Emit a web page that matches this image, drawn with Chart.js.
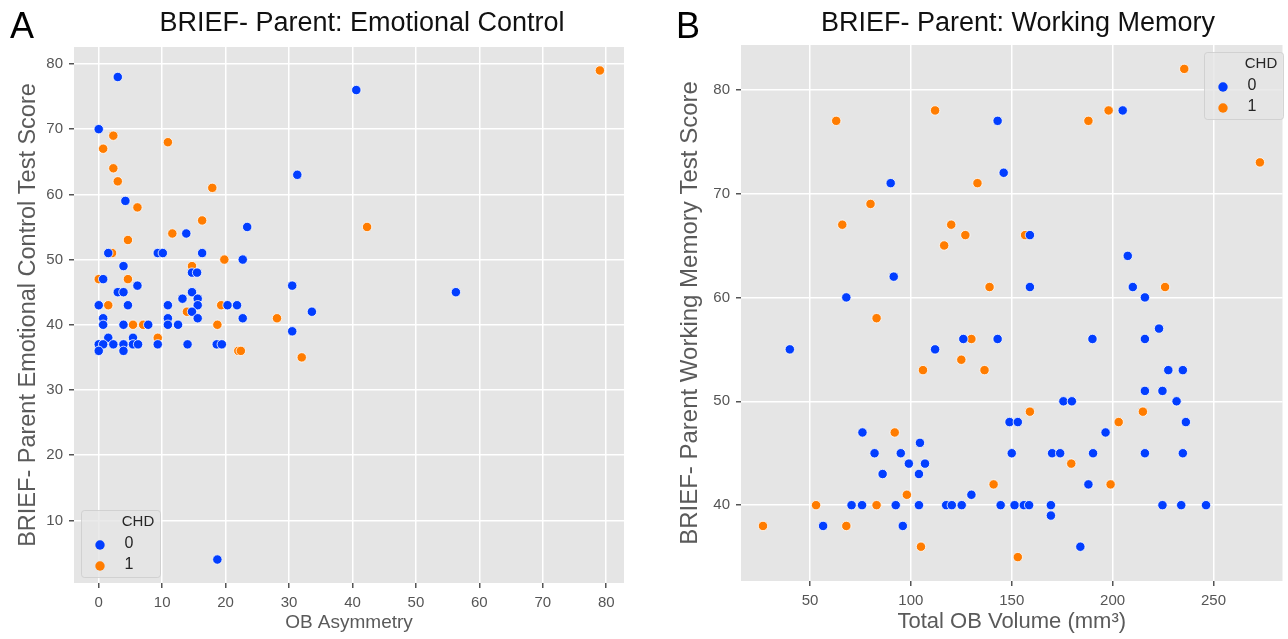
<!DOCTYPE html>
<html>
<head>
<meta charset="utf-8">
<title>BRIEF- Parent scatter plots</title>
<script src="https://cdn.jsdelivr.net/npm/chart.js@4.4.1/dist/chart.umd.min.js"></script>
<style>
  html, body { margin: 0; padding: 0; background: #fff; }
  body { width: 1288px; height: 639px; position: relative; overflow: hidden; }
  .panel { position: absolute; top: 0; }
  #panelA { left: 0; }
  #panelB { left: 660px; }
</style>
</head>
<body>
<div class="panel" id="panelA"><canvas id="chartA" width="660" height="639"></canvas></div>
<div class="panel" id="panelB"><canvas id="chartB" width="628" height="639"></canvas></div>
<script>
// Panel A: OB asymmetry vs BRIEF emotional control
const asymNoChd = [3, 0, 4.2, 23.4, 13.8, 1.5, 9.3, 10.1, 16.3, 22.7, 3.9, 14.7, 15.5, 0.7, 6.1, 3, 3.9, 14.7, 13.2, 15.6,
  15.6, 0, 4.6, 10.9, 20.3, 21.8, 14.7, 0.7, 10.9, 15.6, 22.7, 0.7, 3.9, 7.8, 10.9, 12.5, 1.5, 5.4, 0, 0.7,
  2.3, 3.9, 5.4, 6.2, 9.3, 14, 18.6, 19.4, 0, 3.9, 40.6, 31.3, 30.5, 56.3, 33.6, 30.5, 18.7];
const emoNoChd = [78, 70, 59, 55, 54, 51, 51, 51, 51, 50, 49, 48, 48, 47, 46, 45, 45, 45, 44, 44,
  43, 43, 43, 43, 43, 43, 42, 41, 41, 41, 41, 40, 40, 40, 40, 40, 38, 38, 37, 37,
  37, 37, 37, 37, 37, 37, 37, 37, 36, 36, 76, 63, 46, 45, 42, 39, 4];
const asymChd = [2.3, 10.9, 0.7, 2.3, 3, 17.9, 6.1, 16.3, 11.6, 4.6, 2.1, 19.8, 14.7, 0, 4.6, 1.5, 19.3, 13.9, 28.1, 5.4,
  7, 18.7, 9.3, 22, 22.4, 79, 42.3, 32];
const emoChd = [69, 68, 67, 64, 62, 61, 58, 56, 54, 53, 51, 50, 49, 47, 47, 43, 43, 42, 41, 40,
  40, 40, 38, 36, 36, 79, 55, 35];

// Panel B: total OB volume vs BRIEF working memory
const volNoChd = [143, 146, 90, 91.5, 68, 40, 126, 143, 112, 76, 104.5, 82, 95, 99, 107, 86, 104, 130, 70.6, 75.8,
  92.5, 104, 117.5, 120.3, 125.2, 144.5, 56.5, 96, 205, 159, 207.5, 159, 210, 216, 223, 190, 216, 227.6, 234.8, 216,
  224.7, 175.6, 179.8, 231.7, 148.9, 153, 236.3, 196.5, 150, 170, 174, 190.3, 216, 234.8, 188, 151.4, 156, 158.6, 169.4, 224.7,
  234, 246.3, 169.4, 184];
const wmNoChd = [77, 72, 71, 62, 60, 55, 56, 56, 55, 47, 46, 45, 45, 44, 44, 43, 43, 41, 40, 40,
  40, 40, 40, 40, 40, 40, 38, 38, 78, 66, 64, 61, 61, 60, 57, 56, 56, 53, 53, 51,
  51, 50, 50, 50, 48, 48, 48, 47, 45, 45, 45, 45, 45, 45, 42, 40, 40, 40, 40, 40,
  40, 40, 39, 36];
const volChd = [63, 112, 133, 80, 66, 120, 127, 116.5, 139, 83, 130, 125, 106, 136.5, 92, 141, 98, 53, 83, 26.7,
  68, 105, 235.5, 188, 198, 273, 156.6, 226, 159, 215, 203, 179.5, 199, 153];
const wmChd = [77, 78, 71, 69, 67, 67, 66, 65, 61, 58, 56, 54, 53, 53, 47, 42, 41, 40, 40, 38,
  38, 36, 82, 77, 78, 73, 66, 61, 49, 49, 48, 44, 42, 35];

const chdGroups = ['0', '1'];
const chdColors = ['#023eff', '#ff7c00'];

const asymTicks = [0, 10, 20, 30, 40, 50, 60, 70, 80];
const emoTicks = [10, 20, 30, 40, 50, 60, 70, 80];
const volTicks = [50, 100, 150, 200, 250];
const wmTicks = [40, 50, 60, 70, 80];

const FONT = '"Liberation Sans", Arial, sans-serif';
const TICK_GREY = '#555555';

function toPoints(xs, ys) {
  return xs.map((x, i) => ({ x: x, y: ys[i] }));
}

function makeDatasets(groups) {
  return groups.map((g, i) => ({
    label: chdGroups[i],
    data: toPoints(g[0], g[1]),
    backgroundColor: chdColors[i],
    borderColor: '#ffffff',
    borderWidth: 0.8,
    pointRadius: 4.7,
    pointHoverRadius: 4.7
  }));
}

// grey panel, titles, panel letter and the seaborn-like legend
const panelDecor = {
  id: 'panelDecor',
  beforeDraw(chart) {
    const { ctx, chartArea: a } = chart;
    ctx.save();
    ctx.fillStyle = '#e5e5e5';
    ctx.fillRect(a.left, a.top, a.right - a.left, a.bottom - a.top);
    ctx.restore();
  },
  afterDraw(chart, args, opts) {
    const { ctx, chartArea: a } = chart;
    ctx.save();
    ctx.textBaseline = 'middle';

    ctx.fillStyle = '#000';
    ctx.textAlign = 'left';
    ctx.font = '36px ' + FONT;
    ctx.fillText(opts.letter, opts.letterX, opts.letterY);

    ctx.fillStyle = '#111';
    ctx.textAlign = 'center';
    ctx.font = '27px ' + FONT;
    ctx.fillText(opts.title, opts.titleX, opts.titleY);

    // legend
    const w = 79, h = 67;
    const bx = opts.legendCorner === 'lower left' ? a.left + 7 : chart.width - 5 - w;
    const by = opts.legendCorner === 'lower left' ? a.bottom - 6 - h : a.top + 7;
    ctx.fillStyle = 'rgba(229,229,229,0.8)';
    ctx.strokeStyle = 'rgba(204,204,204,0.8)';
    ctx.lineWidth = 1;
    ctx.beginPath();
    ctx.roundRect(bx + 0.5, by + 0.5, w, h, 3);
    ctx.fill();
    ctx.stroke();

    ctx.fillStyle = '#262626';
    ctx.font = '15px ' + FONT;
    ctx.fillText(opts.hueName, bx + 57, by + 12);
    chart.data.datasets.forEach((ds, i) => {
      const cy = by + 35 + i * 21;
      ctx.beginPath();
      ctx.arc(bx + 19, cy, 4.7, 0, Math.PI * 2);
      ctx.fillStyle = ds.backgroundColor;
      ctx.fill();
      ctx.fillStyle = '#262626';
      ctx.font = '16px ' + FONT;
      ctx.fillText(ds.label, bx + 48, cy - 1);
    });
    ctx.restore();
  }
};

function axis(min, max, ticks, title, titleSize, fit, titlePad) {
  return {
    type: 'linear',
    min: min,
    max: max,
    afterBuildTicks: (scale) => { scale.ticks = ticks.map(v => ({ value: v })); },
    afterFit: fit,
    border: { display: false },
    grid: { color: '#ffffff', lineWidth: 1.5, tickColor: TICK_GREY, tickLength: 5, drawTicks: true },
    ticks: { color: TICK_GREY, font: { family: FONT, size: 15 }, padding: 6, autoSkip: false, maxRotation: 0 },
    title: { display: true, text: title, color: '#5a5a5a', font: { family: FONT, size: titleSize }, padding: titlePad }
  };
}

new Chart(document.getElementById('chartA'), {
  type: 'scatter',
  data: { datasets: makeDatasets([[asymNoChd, emoNoChd], [asymChd, emoChd]]) },
  options: {
    responsive: false,
    animation: false,
    events: [],
    layout: { padding: { top: 47, right: 36, bottom: 0, left: 0 } },
    scales: {
      x: axis(-3.9, 82.8, asymTicks, 'OB Asymmetry', 19, s => { s.height = 56; }, { top: 0, bottom: 5 }),
      y: axis(0.4, 82.6, emoTicks, 'BRIEF- Parent Emotional Control Test Score', 23.5, s => { s.width = 74; }, { top: 14, bottom: 0 })
    },
    plugins: {
      legend: { display: false },
      tooltip: { enabled: false },
      panelDecor: {
        letter: 'A', letterX: 10, letterY: 28,
        title: 'BRIEF- Parent: Emotional Control', titleX: 362, titleY: 24,
        hueName: 'CHD', legendCorner: 'lower left'
      }
    }
  },
  plugins: [panelDecor]
});

new Chart(document.getElementById('chartB'), {
  type: 'scatter',
  data: { datasets: makeDatasets([[volNoChd, wmNoChd], [volChd, wmChd]]) },
  options: {
    responsive: false,
    animation: false,
    events: [],
    layout: { padding: { top: 45, right: 0, bottom: 0, left: 0 } },
    scales: {
      x: axis(15.8, 284.2, volTicks, 'Total OB Volume (mm³)', 22, s => { s.height = 58; }, { top: 0, bottom: 4 }),
      y: axis(32.7, 84.3, wmTicks, 'BRIEF- Parent Working Memory Test Score', 24, s => { s.width = 81; }, { top: 16, bottom: 0 })
    },
    plugins: {
      legend: { display: false },
      tooltip: { enabled: false },
      panelDecor: {
        letter: 'B', letterX: 16, letterY: 28,
        title: 'BRIEF- Parent: Working Memory', titleX: 358, titleY: 24,
        hueName: 'CHD', legendCorner: 'upper right'
      }
    }
  },
  plugins: [panelDecor]
});
</script>
</body>
</html>
